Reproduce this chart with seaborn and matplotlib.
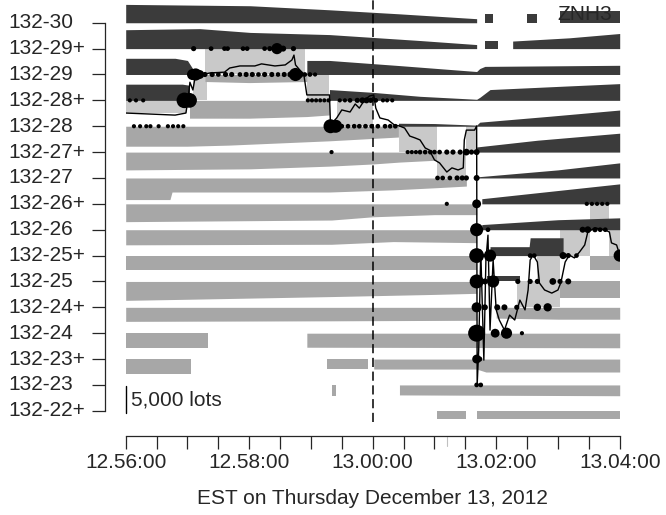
import matplotlib
matplotlib.use('Agg')
import matplotlib.pyplot as plt
import matplotlib.transforms as mtransforms
import numpy as np
import pandas as pd
import seaborn as sns

# price ladder, bottom to top
LEVELS = ['132-22+', '132-23', '132-23+', '132-24', '132-24+', '132-25', '132-25+', '132-26',
          '132-26+', '132-27', '132-27+', '132-28', '132-28+', '132-29', '132-29+', '132-30']
X_TICK_SECS = [0, 120, 240, 360, 480]
X_TICK_LABELS = ['12.56:00', '12.58:00', '13.00:00', '13.02:00', '13.04:00']

# resting depth (lots) per level, seconds after 12:56:00, None = no quote
ask_30_t = [0, 121, 198, 266, 341, None, 349, 357, None, 390, 400, None, 422, 480]
ask_30_q = [3400, 3150, 2400, 1650, 750, None, 1650, 1650, None, 1650, 1650, None, 2200, 2200]
ask_29h_t = [0, 72, 121, 198, 286, 341, None, 349, 362, None, 376, 431, 480]
ask_29h_q = [3500, 3700, 3000, 2600, 1500, 750, None, 1500, 1500, None, 1400, 2000, 2800]
ask_29_t = [0, 48, 60, 65, None, 176, 198, 266, 341, 344, 349, 480]
ask_29_q = [3000, 3000, 2600, 1100, None, 2600, 2600, 1650, 550, 1100, 1500, 1700]
bid_29_t = [77, 120, 176]
bid_29_q = [1300, 1500, 1300]
ask_28h_t = [0, 55, 62, None, 198, 239, 286, 341, 344, 354, 422, 480]
ask_28h_q = [3000, 3000, 2800, None, 2000, 1500, 750, 200, 550, 2000, 2600, 3100]
bid_28h_t = [62, 120, 176, 198]
bid_28h_q = [3300, 3300, 3000, 2700]
ask_28_t = [265, 300, 341, 344, 412, 480]
ask_28_q = [550, 500, 200, 750, 1850, 3000]
bid_28_t = [0, 60, 100, 198, 265]
bid_28_q = [3700, 3700, 3500, 2700, 2000]
ask_27h_t = [341, 400, 480]
ask_27h_q = [950, 2200, 3500]
bid_27h_t = [0, 121, 198, 240, 266, 302]
bid_27h_q = [3300, 3100, 2600, 2200, 1850, 1500]
ask_27_t = [341, 420, 480]
ask_27_q = [200, 1500, 2800]
bid_27_t = [0, 43, 45, 198, 260, 302, 331]
bid_27_q = [4000, 4000, 2600, 2600, 2200, 1800, 1500]
ask_26h_t = [346, 480]
ask_26h_q = [950, 3700]
bid_26h_t = [0, 200, 240, 300, 341]
bid_26h_q = [3300, 3000, 2400, 2000, 2000]
ask_26_t = [346, 420, 480]
ask_26_q = [950, 1850, 2200]
bid_26_t = [0, 200, 260, 341]
bid_26_q = [2800, 2700, 2200, 2400]
ask_25h_t = [354, 392, 393, 425]
ask_25h_q = [1650, 1650, 3300, 3300]
bid_25h_t = [0, 341, None, 451, 480]
bid_25h_q = [2600, 2600, None, 2600, 2600]
ask_25_t = [351, 383]
ask_25_q = [1100, 1100]
bid_25_t = [0, 60, 200, 300, 341, None, 422, 480]
bid_25_q = [3500, 3300, 2800, 2400, 2200, None, 3000, 3000]
bid_24h_t = [0, 200, 341, None, 360, 420, 480]
bid_24h_q = [2600, 2500, 2400, None, 2000, 2200, 2200]
bid_24_t = [0, 80, None, 176, 480]
bid_24_q = [2800, 2800, None, 2600, 2700]
bid_23h_t = [0, 63, None, 196, 235, None, 241, 341, 350, 480]
bid_23h_q = [2800, 2800, None, 1850, 1850, None, 1850, 1850, 2400, 2400]
bid_23_t = [200, 204, None, 266, 480]
bid_23_q = [2000, 2000, None, 1850, 2000]
bid_22h_t = [302, 331, None, 341, 480]
bid_22h_q = [1500, 1500, None, 1500, 1500]

# light shading between best bid and best ask
spread_t0 = [0, 65, 77, 176, 205, 266, 302, 331, 380, 400, 422, 451, 470]
spread_t1 = [60, 79, 174, 198, 240, 302, 331, 341, 422, 422, 451, 470, 480]
spread_lo = [11.5, 12, 13, 12, 11, 10, 9, 10, 4, 5, 6, 7, 6]
spread_hi = [12, 13, 14, 13, 12, 11, 10, 11, 5, 6, 7, 8, 7]

# mid price path (level units)
mid_t = [0, 24, 48, 58.5, 60.5, 62.4, 65.3, 68.3, 72, 82, 96, 101, 111, 125.5, 132, 145, 155,
         161.5, 163.5, 165, 169, 173, 175, 176, 198, 199, 205, 210, 218, 223, 227, 232, 237,
         241, 243, 247, 255, 261, 266, 271, 276, 281, 286, 291, 295, 300, 305, 312, 317, 323,
         328, 329, 331, 339, 341, 341.5, 343, 345, 348, 350, 352, 354, 357, 360, 363, 368, 373,
         378, 383, 388, 391, 393, 396, 400, 402, 407, 414, 420, 423, 427, 431, 436, 441, 446,
         449, 456, 466, 470, 472, 477, 480]
mid_px = [11.51, 11.47, 11.43, 11.51, 12.01, 12.70, 12.40, 13.09, 12.98, 13.06, 13.09, 13.25,
          13.33, 13.33, 13.41, 13.33, 13.37, 13.56, 13.75, 13.37, 13.18, 13.02, 12.48, 12.21,
          12.21, 11.05, 11.32, 11.63, 11.55, 11.86, 11.70, 12.01, 12.17, 12.21, 11.70, 11.32,
          11.24, 11.05, 11.01, 10.93, 10.62, 10.55, 10.47, 10.16, 10.08, 9.70, 9.58, 9.23, 9.39,
          9.31, 9.39, 10.47, 10.85, 10.85, 11.01, 1.0, 2.35, 6.21, 1.96, 5.83, 6.79, 3.12, 5.83,
          3.90, 3.51, 3.12, 3.70, 3.51, 4.28, 3.90, 4.67, 5.83, 6.02, 5.75, 4.94, 4.67, 4.55,
          4.67, 4.98, 5.75, 6.02, 5.91, 6.14, 6.41, 6.91, 7.07, 6.99, 6.91, 6.49, 6.41, 6.02]

# trades: time, level index, size (lots)
trade_t = [4, 10, 17, 8, 14, 20, 24, 32, 41, 46, 51, 56, 57, 62, 65, 68, 72,
           66, 83, 96, 99, 114, 118, 135, 140, 147, 153, 163,
           77, 84, 90, 97, 103, 111, 117, 123, 129, 135, 142, 148, 154, 160, 165, 169, 174, 179, 184,
           177, 181, 185, 189, 193, 197, 199, 204, 200,
           208, 213, 218, 225, 230, 234, 238, 243, 250, 254, 259,
           210, 216, 222, 227, 233, 239, 245, 252, 257, 262,
           274, 278, 282, 286, 291, 296, 300, 305, 312, 318, 325, 331, 336, 341,
           303, 308, 315, 322, 327, 331, 341, 312, 341,
           341, 352, 444, 449, 456, 461, 466, 448, 453, 458, 463, 468,
           341, 354, 393, 397, 425, 430, 438, 480,
           341, 349, 357, 381, 393, 400, 415, 422, 430,
           341, 349, 361, 368, 380, 400, 410,
           341, 359, 370, 385, 341, 344, 341, 345]
trade_lvl = [12, 12, 12, 11, 11, 11, 11, 11, 11, 11, 11, 11, 12, 12, 13, 13, 13,
             14, 14, 14, 14, 14, 14, 14, 14, 14, 14, 14,
             13, 13, 13, 13, 13, 13, 13, 13, 13, 13, 13, 13, 13, 13, 13, 13, 13, 13, 13,
             12, 12, 12, 12, 12, 12, 11, 11, 10,
             12, 12, 12, 12, 12, 12, 12, 12, 12, 12, 12,
             11, 11, 11, 11, 11, 11, 11, 11, 11, 11,
             10, 10, 10, 10, 10, 10, 10, 10, 10, 10, 10, 10, 10, 10,
             9, 9, 9, 9, 9, 9, 9, 8, 8,
             7, 7, 7, 7, 7, 7, 7, 8, 8, 8, 8, 8,
             6, 6, 6, 6, 6, 6, 6, 6,
             5, 5, 5, 5, 5, 5, 5, 5, 5,
             4, 4, 4, 4, 4, 4, 4,
             3, 3, 3, 3, 2, 2, 1, 1]
trade_lots = [20, 20, 20, 20, 20, 20, 20, 20, 20, 20, 20, 20, 500, 450, 250, 300, 150,
              40, 30, 30, 30, 30, 30, 30, 40, 250, 60, 40,
              40, 40, 30, 40, 40, 30, 40, 40, 30, 40, 40, 30, 40, 60, 350, 100, 30, 30, 20,
              20, 20, 20, 20, 20, 20, 400, 350, 20,
              20, 20, 30, 40, 60, 60, 40, 30, 20, 20, 20,
              30, 30, 30, 30, 30, 30, 30, 30, 30, 30,
              20, 20, 20, 30, 30, 30, 30, 30, 40, 40, 40, 80, 40, 60,
              30, 30, 30, 40, 40, 40, 60, 20, 150,
              350, 30, 60, 80, 40, 30, 30, 20, 20, 20, 20, 20,
              450, 300, 30, 30, 90, 40, 30, 300,
              400, 60, 300, 40, 40, 40, 80, 40, 60,
              200, 60, 60, 60, 40, 100, 130,
              600, 150, 250, 20, 150, 40, 30, 30]

ASK_COLOR = '#3b3b3b'
BID_COLOR = '#a7a7a7'
SPREAD_COLOR = '#c9c9c9'
LOT_SCALE = 27 / 25.87 / 5000   # level units per lot

BANDS = [
    ('132-30', 'ask', ask_30_t, ask_30_q), ('132-29+', 'ask', ask_29h_t, ask_29h_q),
    ('132-29', 'ask', ask_29_t, ask_29_q), ('132-29', 'bid', bid_29_t, bid_29_q),
    ('132-28+', 'ask', ask_28h_t, ask_28h_q), ('132-28+', 'bid', bid_28h_t, bid_28h_q),
    ('132-28', 'ask', ask_28_t, ask_28_q), ('132-28', 'bid', bid_28_t, bid_28_q),
    ('132-27+', 'ask', ask_27h_t, ask_27h_q), ('132-27+', 'bid', bid_27h_t, bid_27h_q),
    ('132-27', 'ask', ask_27_t, ask_27_q), ('132-27', 'bid', bid_27_t, bid_27_q),
    ('132-26+', 'ask', ask_26h_t, ask_26h_q), ('132-26+', 'bid', bid_26h_t, bid_26h_q),
    ('132-26', 'ask', ask_26_t, ask_26_q), ('132-26', 'bid', bid_26_t, bid_26_q),
    ('132-25+', 'ask', ask_25h_t, ask_25h_q), ('132-25+', 'bid', bid_25h_t, bid_25h_q),
    ('132-25', 'ask', ask_25_t, ask_25_q), ('132-25', 'bid', bid_25_t, bid_25_q),
    ('132-24+', 'bid', bid_24h_t, bid_24h_q), ('132-24', 'bid', bid_24_t, bid_24_q),
    ('132-23+', 'bid', bid_23h_t, bid_23h_q), ('132-23', 'bid', bid_23_t, bid_23_q),
    ('132-22+', 'bid', bid_22h_t, bid_22h_q),
]


def draw_band(ax, level, side, t, q):
    y0 = LEVELS.index(level)
    t = np.array(t, dtype=float)
    q = np.array(q, dtype=float)
    gaps = np.where(np.isnan(t))[0]
    for seg_t, seg_q in zip(np.split(t, gaps), np.split(q, gaps)):
        keep = ~np.isnan(seg_t)
        seg_t, seg_q = seg_t[keep], seg_q[keep]
        if len(seg_t) < 2:
            continue
        h = seg_q * LOT_SCALE
        if side == 'ask':
            ax.fill_between(seg_t, y0, y0 + h, color=ASK_COLOR, lw=0)
        else:
            ax.fill_between(seg_t, y0 - h, y0, color=BID_COLOR, lw=0)


sns.set_style('ticks')
plt.rcParams['font.family'] = ['Liberation Sans', 'DejaVu Sans']

fig = plt.figure(figsize=(6.66, 5.15), dpi=100)
ax = fig.add_axes([125.7 / 666, 1 - 422 / 515, 494 / 666, 422 / 515])

for t0, t1, lo, hi in zip(spread_t0, spread_t1, spread_lo, spread_hi):
    ax.fill_between([t0, t1], lo, hi, color=SPREAD_COLOR, lw=0)

for level, side, t, q in BANDS:
    draw_band(ax, level, side, t, q)

ax.axvline(240, color='black', lw=1.1, ls=(0, (6, 3)))

sns.lineplot(x=mid_t, y=mid_px, sort=False, estimator=None, color='black', lw=1.0, ax=ax)

trades = pd.DataFrame({'t': trade_t, 'lvl': trade_lvl, 'lots': trade_lots})
sns.scatterplot(data=trades, x='t', y='lvl', size='lots', sizes=(9, 150), size_norm=(20, 600),
                color='black', linewidth=0, legend=False, ax=ax, zorder=5)

# scale bar
bar_y0 = -0.085
ax.plot([0, 0], [bar_y0, bar_y0 + 5000 * LOT_SCALE], color='black', lw=1.0, clip_on=False)
ax.text(5, 0.42, '5,000 lots', ha='left', va='center', fontsize=15)
ax.text(0.984, 0.988, 'ZNH3', transform=ax.transAxes, ha='right', va='top', fontsize=15)

ax.set_xlim(0, 480)
ax.set_ylim((410.8 - 422) / 25.87, 410.8 / 25.87)

# y tick labels sit flush left at the figure edge
ax.set_yticks(range(len(LEVELS)))
ax.set_yticklabels([])
lab_trans = mtransforms.blended_transform_factory(fig.transFigure, ax.transData)
for i, name in enumerate(LEVELS):
    ax.text(8 / 666, i, name, transform=lab_trans, ha='left', va='center', fontsize=15)

ax.set_xticks(X_TICK_SECS)
ax.set_xticklabels(X_TICK_LABELS)
ax.set_xticks([s for s in range(0, 481, 30) if s not in X_TICK_SECS], minor=True)
ax.xaxis.get_major_ticks()[-1].tick1line.set_visible(False)

ax.tick_params(axis='y', length=9.4, width=0.9)
ax.tick_params(axis='x', which='both', length=9.4, width=0.9, pad=3, labelsize=15)

# faint marker tick on the time axis
trans = mtransforms.blended_transform_factory(ax.transData, ax.transAxes)
ax.plot([312.6, 312.6], [-0.035, -0.058], transform=trans, color='#c0c0c0', lw=0.8, clip_on=False)

for side in ['top', 'right']:
    ax.spines[side].set_visible(False)
ax.spines['left'].set_position(('outward', 14.9))
ax.spines['left'].set_bounds(0, 15)
ax.spines['bottom'].set_position(('outward', 10.1))
ax.spines['bottom'].set_bounds(0, 480)
for side in ['left', 'bottom']:
    ax.spines[side].set_linewidth(0.9)

ax.set_ylabel('')
ax.set_xlabel('EST on Thursday December 13, 2012', fontsize=15, labelpad=12)

fig.savefig('out.png', dpi=100)
